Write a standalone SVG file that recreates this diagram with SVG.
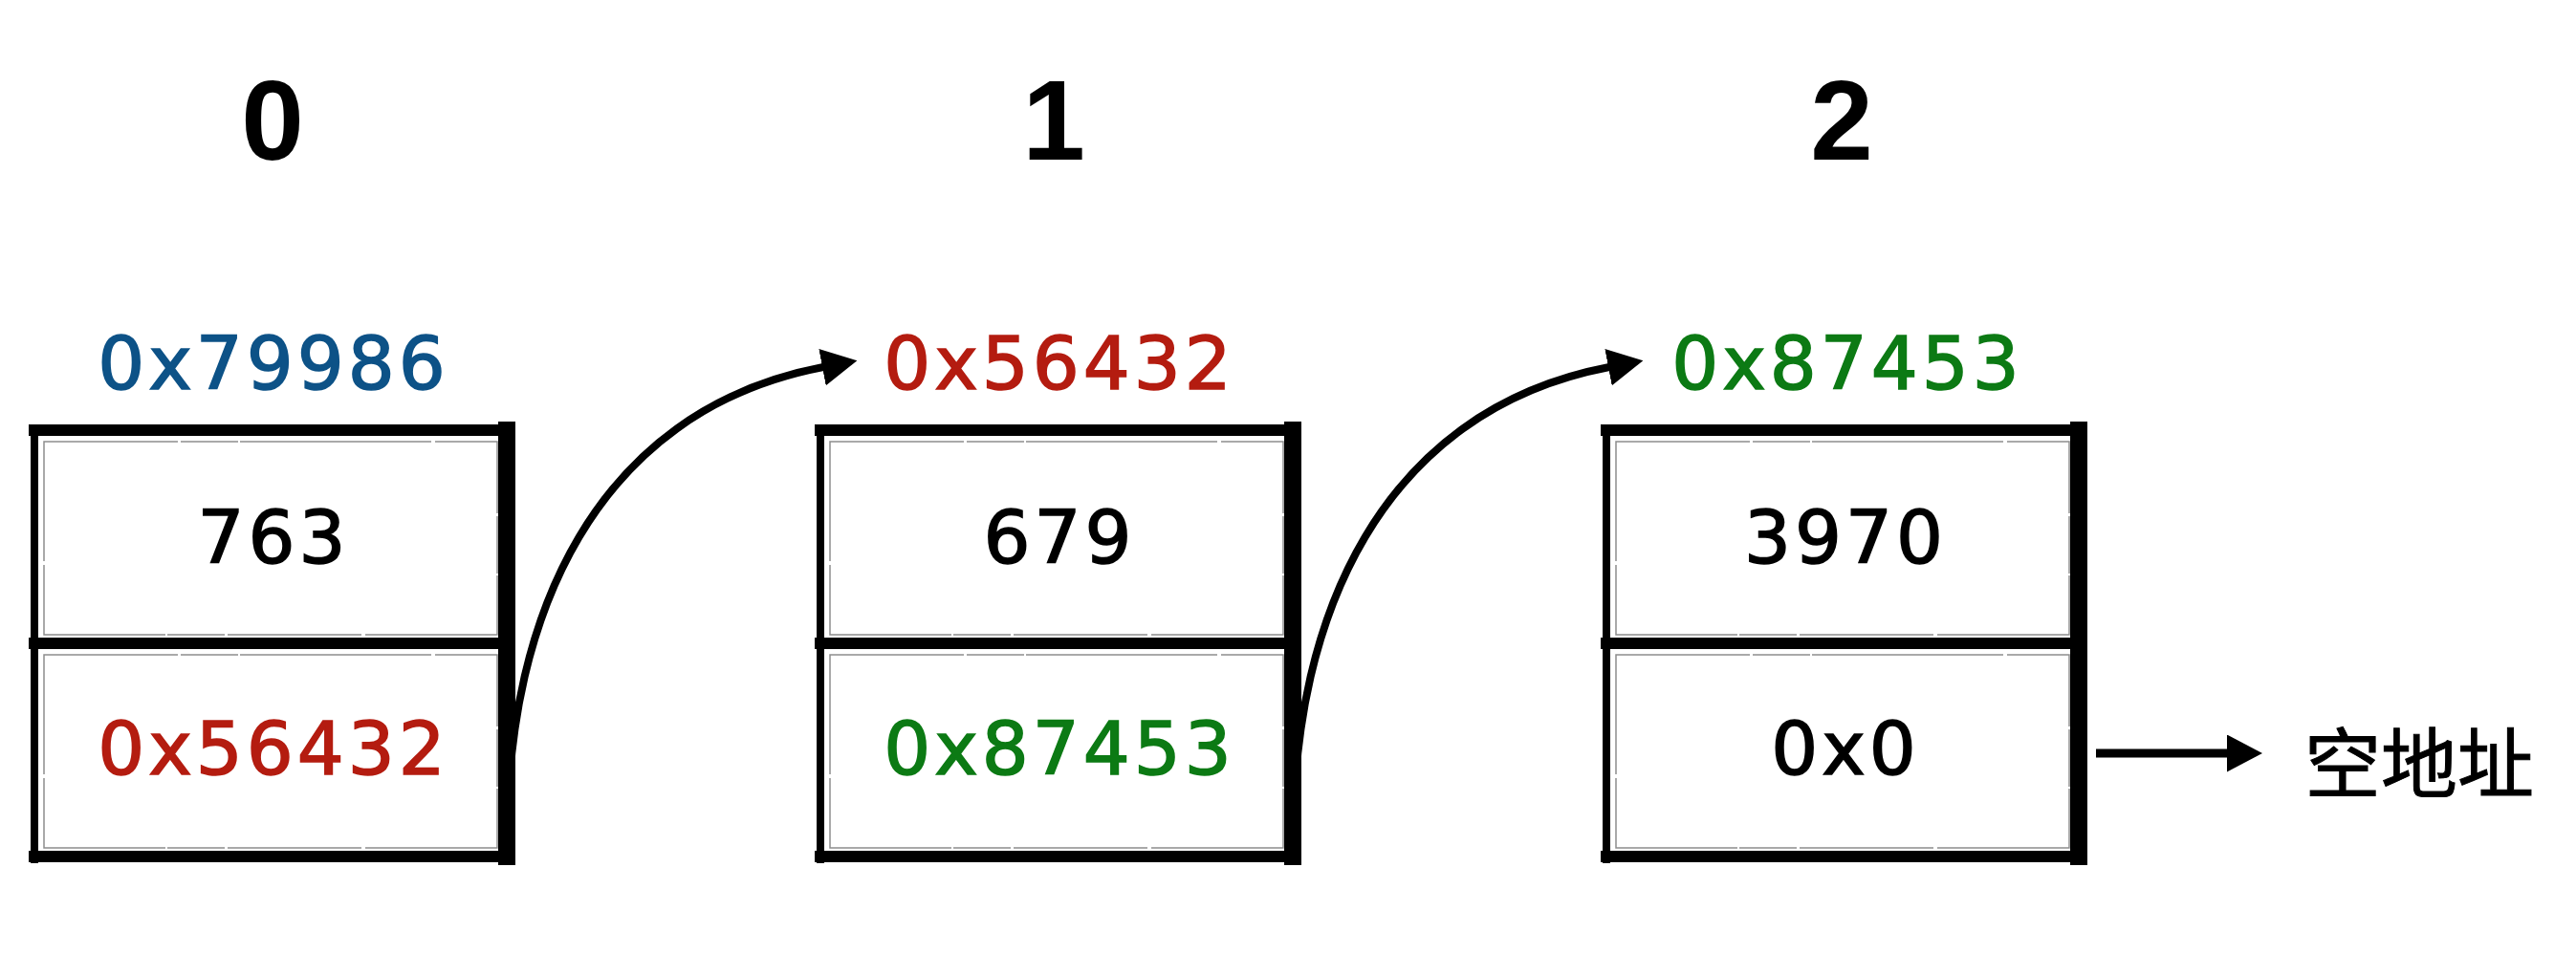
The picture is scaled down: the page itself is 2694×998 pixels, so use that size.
<svg xmlns="http://www.w3.org/2000/svg" width="2694" height="998" viewBox="0 0 2694 998">
<defs>
<style>
.idx{font-family:"Liberation Sans","DejaVu Sans",sans-serif;font-weight:bold;font-size:118px;fill:#000;text-anchor:middle}
.t{font-family:"DejaVu Sans","Liberation Sans",sans-serif;font-size:77px;text-anchor:middle;letter-spacing:4px;stroke-width:1.6px}
.blk{fill:#000;stroke:#000}.blue{fill:#0d5287;stroke:#0d5287}.red{fill:#b41c10;stroke:#b41c10}.grn{fill:#0c7a14;stroke:#0c7a14}
.cjk{font-family:"Noto Sans CJK SC","Noto Sans",sans-serif;font-size:80px;fill:#000;stroke:#000;stroke-width:1px}
.bd{stroke:#000;fill:none;stroke-width:12}
.lt{stroke-width:8}
.rt{stroke-width:18}
.inner{fill:none;stroke:#000;stroke-width:1.5;stroke-dasharray:140 3 60 2 200 4;opacity:.45}
.conn{fill:none;stroke:#000;stroke-width:8}
.nul{fill:none;stroke:#000;stroke-width:9}
</style>
<marker id="ah" viewBox="0 0 37 39" refX="1" refY="19.5" markerWidth="37" markerHeight="39" markerUnits="userSpaceOnUse" orient="auto">
<path d="M0,0 L37,19.5 L0,39 z" fill="#000"/>
</marker>
</defs>
<rect width="2694" height="998" fill="#fff"/>

<g id="node0">
<text class="idx" x="285" y="167">0</text>
<text class="t blue" x="286" y="407">0x79986</text>
<line class="bd lt" x1="36" y1="444" x2="36" y2="903"/>
<line class="bd" x1="30" y1="450" x2="538" y2="450"/>
<line class="bd" x1="30" y1="673" x2="538" y2="673"/>
<line class="bd" x1="30" y1="896" x2="538" y2="896"/>
<line class="bd rt" x1="530" y1="441" x2="530" y2="905"/>
<rect class="inner" x="46" y="462" width="474" height="202"/>
<rect class="inner" x="46" y="685" width="474" height="202"/>
<text class="t blk" x="286" y="589">763</text>
<text class="t red" x="286" y="810">0x56432</text>
</g>

<g id="node1">
<text class="idx" x="1102" y="167">1</text>
<text class="t red" x="1108" y="407">0x56432</text>
<line class="bd lt" x1="858" y1="444" x2="858" y2="903"/>
<line class="bd" x1="852" y1="450" x2="1360" y2="450"/>
<line class="bd" x1="852" y1="673" x2="1360" y2="673"/>
<line class="bd" x1="852" y1="896" x2="1360" y2="896"/>
<line class="bd rt" x1="1352" y1="441" x2="1352" y2="905"/>
<rect class="inner" x="868" y="462" width="474" height="202"/>
<rect class="inner" x="868" y="685" width="474" height="202"/>
<text class="t blk" x="1108" y="589">679</text>
<text class="t grn" x="1108" y="810">0x87453</text>
</g>

<g id="node2">
<text class="idx" x="1926" y="167">2</text>
<text class="t grn" x="1932" y="407">0x87453</text>
<line class="bd lt" x1="1680" y1="444" x2="1680" y2="903"/>
<line class="bd" x1="1674" y1="450" x2="2182" y2="450"/>
<line class="bd" x1="1674" y1="673" x2="2182" y2="673"/>
<line class="bd" x1="1674" y1="896" x2="2182" y2="896"/>
<line class="bd rt" x1="2174" y1="441" x2="2174" y2="905"/>
<rect class="inner" x="1690" y="462" width="474" height="202"/>
<rect class="inner" x="1690" y="685" width="474" height="202"/>
<text class="t blk" x="1930" y="589">3970</text>
<text class="t blk" x="1930" y="810">0x0</text>
</g>

<g id="null">
<text class="cjk" x="2410" y="828">空地址</text>
</g>

<g id="connectors">
<path class="conn" d="M531,870 C531,650 620,430 861,384" marker-end="url(#ah)"/>
<path class="conn" d="M1353,870 C1353,650 1442,430 1683,384" marker-end="url(#ah)"/>
<line class="nul" x1="2192" y1="788" x2="2330" y2="788" marker-end="url(#ah)"/>
</g>
</svg>
